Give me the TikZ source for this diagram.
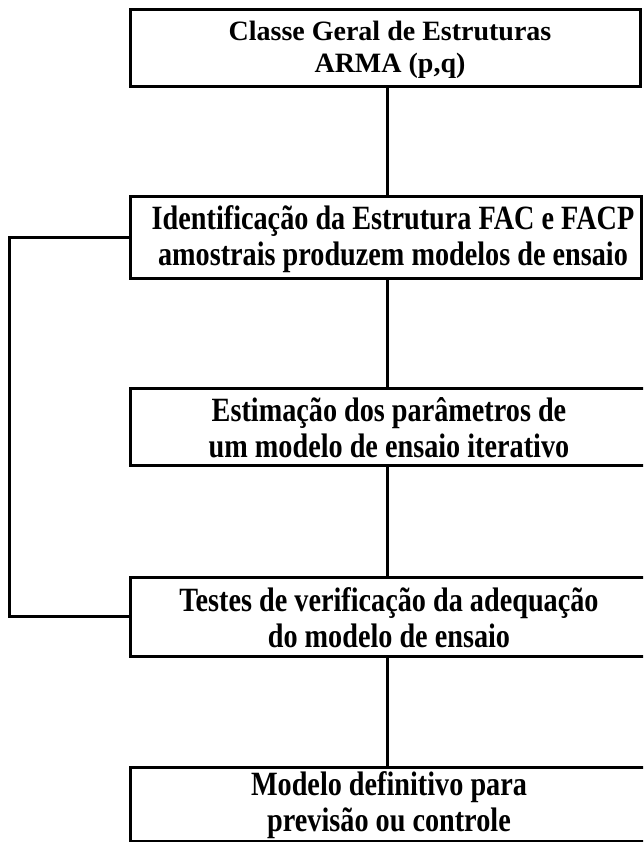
\documentclass[tikz,border=0pt]{standalone}
\usepackage{fontspec}
\setmainfont{Liberation Serif}
\newfontfamily\boxfont{Liberation Serif Bold}
\newfontfamily\condfont{Liberation Serif Bold}[FakeStretch=0.83]
\begin{document}
\begin{tikzpicture}[x=1pt,y=-1pt,
  flowbox/.style={draw=black, line width=3pt, fill=white, inner sep=0pt, outer sep=0pt, line join=miter},
  lbl/.style={align=center, inner sep=0pt},
  wide/.style={lbl, font=\condfont\fontsize{34}{36}\selectfont},
  link/.style={draw=black, line width=3pt, line join=miter}]
\useasboundingbox (0,0) rectangle (643,842);
\begin{scope}
\clip (0,0) rectangle (643,842);
% boxes
\node[flowbox, minimum width=510pt, minimum height=77pt] (b1) at (385,48.5) {};
\node[flowbox, minimum width=511pt, minimum height=81pt] (b2) at (385.5,237.5) {};
\node[flowbox, minimum width=520pt, minimum height=77pt] (b3) at (390,426.5) {};
\node[flowbox, minimum width=520pt, minimum height=79pt] (b4) at (390,616.5) {};
\node[flowbox, minimum width=520pt, minimum height=74pt] (b5) at (390,804) {};
% texts
\node[lbl, font=\boxfont\fontsize{28}{32}\selectfont] (t1) at (390,50) {Classe Geral de Estruturas\\ARMA (p,q)};
\node[wide] (t2) at (393,239) {Identificação da Estrutura FAC e FACP\\amostrais produzem modelos de ensaio};
\node[wide] (t3) at (389,428) {Estimação dos parâmetros de\\um modelo de ensaio iterativo};
\node[wide] (t4) at (389,618) {Testes de verificação da adequação\\do modelo de ensaio};
\node[wide] (t5) at (389,805) {Modelo definitivo para\\previsão ou controle};
% connectors
\coordinate (spine) at (387,0);
\coordinate (fbx) at (9,0);
\draw[link] (b1.south -| spine) -- (b2.north -| spine);
\draw[link] (b2.south -| spine) -- (b3.north -| spine);
\draw[link] (b3.south -| spine) -- (b4.north -| spine);
\draw[link] (b4.south -| spine) -- (b5.north -| spine);
\draw[link] (b2.west) -- (b2.west -| fbx) -- (b4.west -| fbx) -- (b4.west);
\end{scope}
\end{tikzpicture}
\end{document}
